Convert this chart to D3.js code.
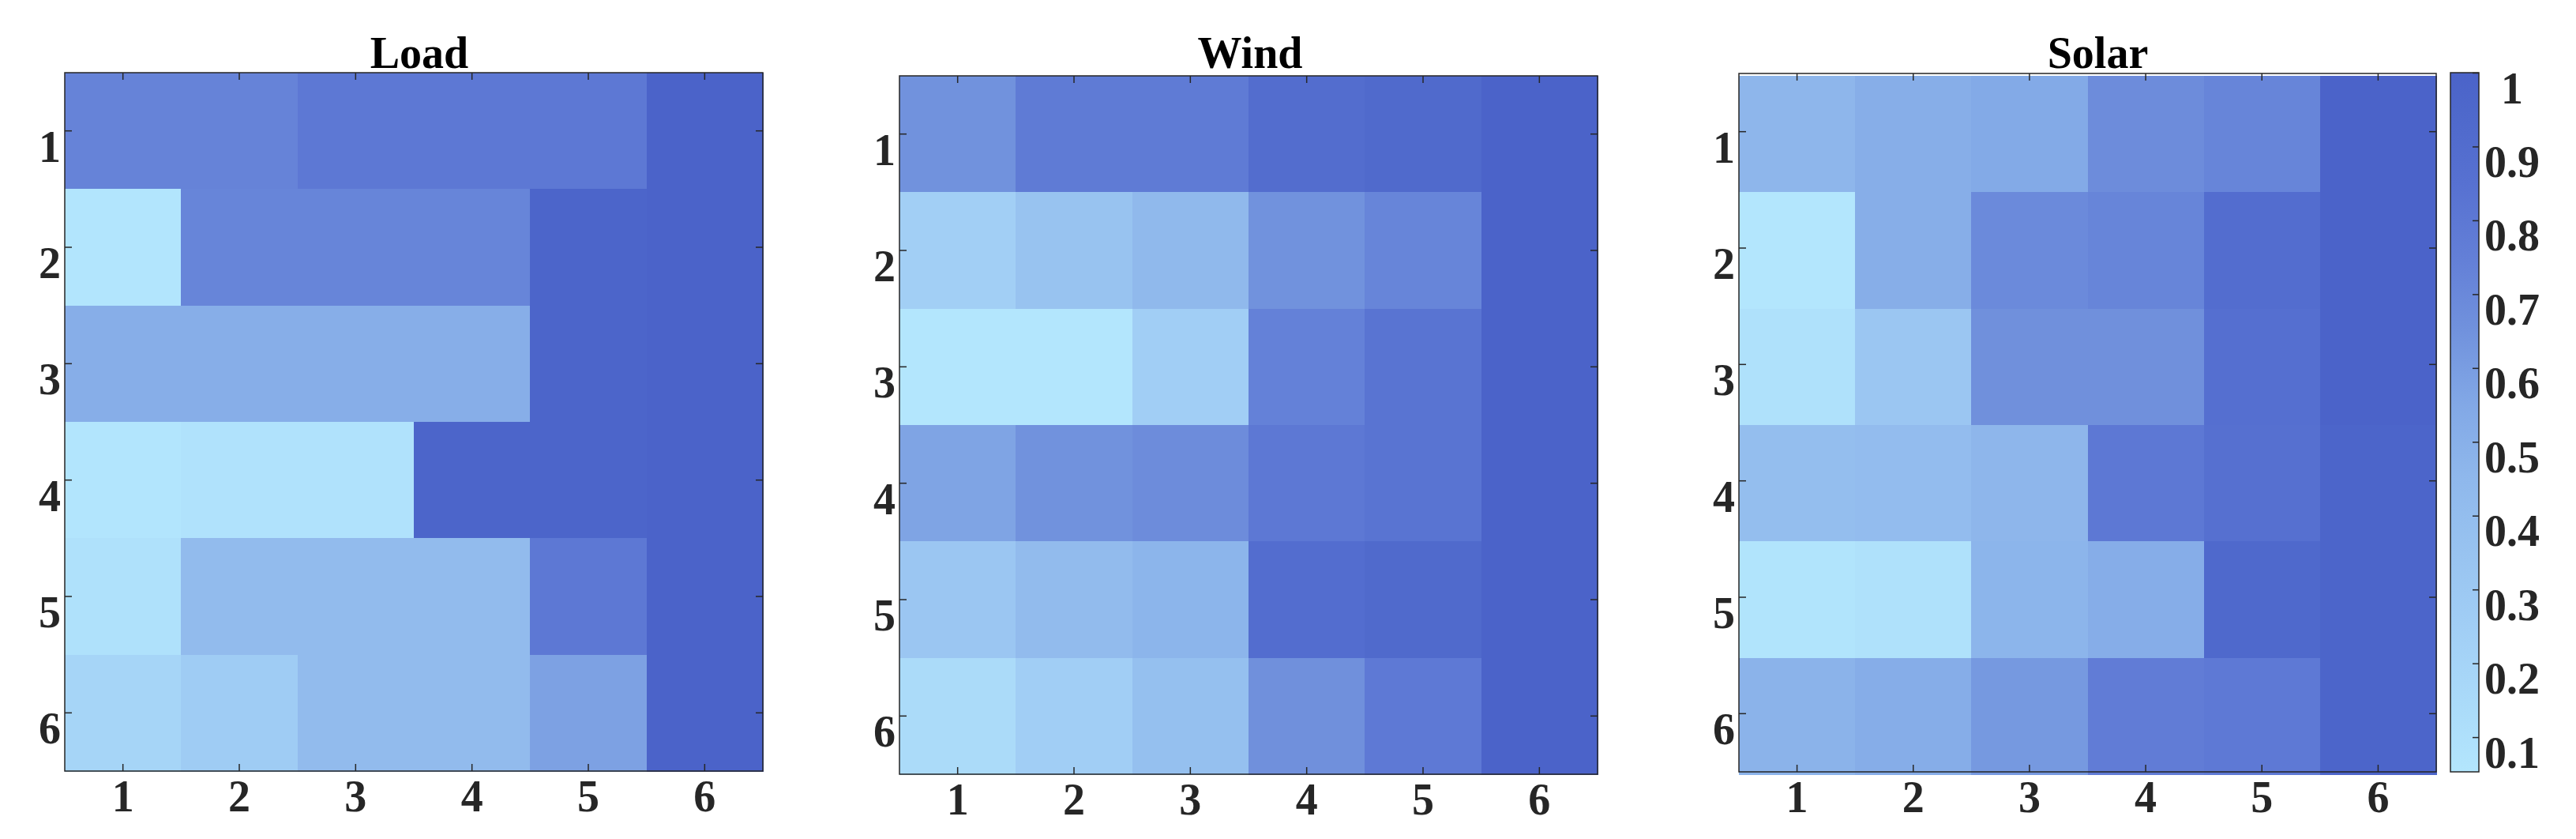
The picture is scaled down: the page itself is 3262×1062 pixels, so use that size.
<!DOCTYPE html>
<html>
<head>
<meta charset="utf-8">
<script src="https://cdn.jsdelivr.net/npm/d3@7"></script>
<style>
  html, body { margin: 0; padding: 0; background: #fff; }
  svg { display: block; }
  text { font-family: 'Liberation Serif', 'Times New Roman', serif; font-weight: bold; }
</style>
</head>
<body>
<svg id="chart" width="3262" height="1062"></svg>
<script>
// data
const rows = [1, 2, 3, 4, 5, 6];
const cols = [1, 2, 3, 4, 5, 6];

const loadValues = [
  [0.73, 0.73, 0.80, 0.80, 0.80, 1.00],
  [0.06, 0.72, 0.72, 0.72, 0.98, 1.00],
  [0.51, 0.51, 0.51, 0.51, 0.98, 1.00],
  [0.06, 0.08, 0.08, 0.98, 0.98, 1.00],
  [0.09, 0.42, 0.42, 0.42, 0.80, 1.00],
  [0.19, 0.27, 0.42, 0.42, 0.58, 1.00]
];

const windValues = [
  [0.65, 0.78, 0.78, 0.90, 0.93, 1.00],
  [0.24, 0.35, 0.44, 0.65, 0.72, 1.00],
  [0.05, 0.05, 0.25, 0.74, 0.83, 1.00],
  [0.57, 0.65, 0.68, 0.80, 0.83, 1.00],
  [0.32, 0.42, 0.47, 0.89, 0.93, 1.00],
  [0.14, 0.25, 0.38, 0.66, 0.79, 1.00]
];

const solarValues = [
  [0.46, 0.51, 0.54, 0.68, 0.72, 1.00],
  [0.05, 0.51, 0.69, 0.72, 0.89, 1.00],
  [0.09, 0.32, 0.66, 0.66, 0.87, 1.00],
  [0.40, 0.41, 0.46, 0.80, 0.86, 0.98],
  [0.07, 0.09, 0.47, 0.52, 0.94, 0.98],
  [0.48, 0.52, 0.62, 0.77, 0.79, 0.98]
];

const titles = ['Load', 'Wind', 'Solar'];
const colorbarTicks = [0.1, 0.2, 0.3, 0.4, 0.5, 0.6, 0.7, 0.8, 0.9, 1];
const colorMin = 0.053, colorMax = 1;

// colormap (light sky blue -> royal blue)
const cmapStops  = [0.05, 0.15, 0.25, 0.35, 0.45, 0.55, 0.65, 0.75, 0.85, 0.95, 1.0];
const cmapColors = ['#b3e6fd', '#aadaf9', '#a1cef5', '#98c3f0', '#8fb8ec', '#82a8e6',
                    '#7192dd', '#637fd7', '#5771d1', '#4e68cb', '#4b63c9'];
const cmap = d3.scaleLinear().domain(cmapStops).range(cmapColors)
  .interpolate(d3.interpolateRgb).clamp(true);

const svg = d3.select('#chart');
const fontSize = 56;
const ink = '#262626';

// layout of the three axes
const panels = [
  { title: titles[0], values: loadValues,  x0: 82,   x1: 966,  y0: 92, y1: 976, dy: 0, tdx: 7 },
  { title: titles[1], values: windValues,  x0: 1139, x1: 2023, y0: 96, y1: 980, dy: 0, tdx: 2 },
  { title: titles[2], values: solarValues, x0: 2202, x1: 3085, y0: 93, y1: 977, dy: 3, tdx: 13 }
];

function styleTicks(sel) {
  sel.select('.domain').remove();
  sel.selectAll('.tick line').attr('stroke', ink).attr('stroke-width', 1.5);
}

function drawPanel(p) {
  const g = svg.append('g');
  const x = d3.scaleBand().domain(cols).range([p.x0, p.x1]);
  const y = d3.scaleBand().domain(rows).range([p.y0, p.y1]);

  const cells = p.values.flatMap((row, i) => row.map((v, j) => ({ r: rows[i], c: cols[j], v })));

  g.append('g').selectAll('rect')
    .data(cells)
    .join('rect')
      .attr('x', d => x(d.c))
      .attr('y', d => y(d.r) + p.dy)
      .attr('width', x.bandwidth() + 0.6)
      .attr('height', y.bandwidth() + 0.6)
      .attr('fill', d => cmap(d.v))
      .attr('shape-rendering', 'crispEdges');

  // bottom axis with labels
  g.append('g')
    .attr('transform', `translate(0,${p.y1})`)
    .call(d3.axisBottom(x).tickSize(-9).tickSizeOuter(0))
    .call(styleTicks)
    .call(a => a.selectAll('.tick text')
      .attr('y', 51).attr('dy', null)
      .attr('fill', ink).style('font-size', fontSize + 'px'));

  // left axis with labels
  g.append('g')
    .attr('transform', `translate(${p.x0},0)`)
    .call(d3.axisLeft(y).tickSize(-9).tickSizeOuter(0))
    .call(styleTicks)
    .call(a => a.selectAll('.tick text')
      .attr('x', -5).attr('y', 39).attr('dy', null)
      .attr('fill', ink).style('font-size', fontSize + 'px'));

  // mirrored ticks on top and right
  g.append('g')
    .attr('transform', `translate(0,${p.y0})`)
    .call(d3.axisTop(x).tickSize(-9).tickSizeOuter(0).tickFormat(''))
    .call(styleTicks);
  g.append('g')
    .attr('transform', `translate(${p.x1},0)`)
    .call(d3.axisRight(y).tickSize(-9).tickSizeOuter(0).tickFormat(''))
    .call(styleTicks);

  // box
  g.append('rect')
    .attr('x', p.x0).attr('y', p.y0)
    .attr('width', p.x1 - p.x0).attr('height', p.y1 - p.y0)
    .attr('fill', 'none').attr('stroke', ink).attr('stroke-width', 1.5);

  g.append('text')
    .attr('x', (p.x0 + p.x1) / 2 + p.tdx)
    .attr('y', 86)
    .attr('text-anchor', 'middle')
    .attr('fill', '#000')
    .style('font-size', fontSize + 'px')
    .text(p.title);
}

panels.forEach(drawPanel);

// colorbar
const cb = { x0: 3103, x1: 3139, y0: 92, y1: 977 };
const yCb = d3.scaleLinear().domain([colorMin, colorMax]).range([cb.y1, cb.y0]);

const grad = svg.append('defs').append('linearGradient')
  .attr('id', 'cbgrad')
  .attr('x1', 0).attr('y1', 1).attr('x2', 0).attr('y2', 0);
grad.selectAll('stop')
  .data(cmapStops.filter(s => s >= colorMin).concat([colorMin]).sort((a, b) => a - b))
  .join('stop')
    .attr('offset', d => (d - colorMin) / (colorMax - colorMin))
    .attr('stop-color', d => cmap(d));

svg.append('rect')
  .attr('x', cb.x0).attr('y', cb.y0)
  .attr('width', cb.x1 - cb.x0).attr('height', cb.y1 - cb.y0)
  .attr('fill', 'url(#cbgrad)')
  .attr('stroke', ink).attr('stroke-width', 1.5);

svg.append('g')
  .attr('transform', `translate(${cb.x1},0)`)
  .call(d3.axisRight(yCb).tickValues(colorbarTicks).tickSize(-8).tickSizeOuter(0)
    .tickFormat(d3.format('')))
  .call(styleTicks)
  .call(a => a.selectAll('.tick text')
    .attr('x', 42).attr('y', 38).attr('dy', null)
    .attr('text-anchor', 'middle')
    .attr('fill', ink).style('font-size', fontSize + 'px'));
</script>
</body>
</html>
